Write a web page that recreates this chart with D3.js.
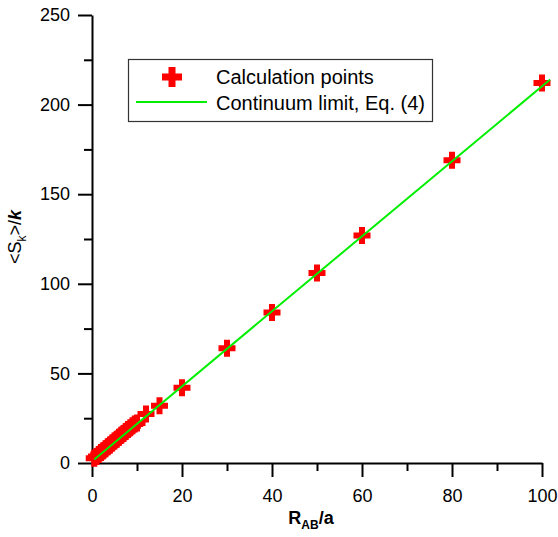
<!DOCTYPE html>
<html>
<head>
<meta charset="utf-8">
<script src="https://cdn.jsdelivr.net/npm/d3@7"></script>
<style>
  html, body { margin: 0; padding: 0; background: #fff; }
  svg { display: block; font-family: Arial, "Liberation Sans", sans-serif; }
</style>
</head>
<body>
<script>
// ---- data ----
const pointsX = [0.5, 1, 1.5, 2, 2.5, 3, 3.5, 4, 4.5, 5, 5.5, 6, 6.5, 7, 7.5, 8, 8.5, 9, 9.5, 10, 12, 15, 20, 30, 40, 50, 60, 80, 100];
const pointsY = [2.6, 3.6, 4.7, 5.8, 6.9, 8.0, 9.0, 10.1, 11.2, 12.3, 13.3, 14.4, 15.5, 16.5, 17.6, 18.7, 19.7, 20.8, 21.8, 22.3, 27.3, 32, 42, 64, 84, 106, 127, 169, 212];
const lineX = [0.5, 101.8];
const lineY = [2.0, 214.0];
const xMajorTicks = [0, 20, 40, 60, 80, 100];
const xMinorTicks = [10, 30, 50, 70, 90];
const yMajorTicks = [0, 50, 100, 150, 200, 250];
const yMinorTicks = [25, 75, 125, 175, 225];
const legendLabels = ["Calculation points", "Continuum limit, Eq. (4)"];

// ---- layout ----
const W = 558, H = 537;
const mLeft = 92, mRight = 542, mTop = 15, mBottom = 463;

const svg = d3.select("body").append("svg").attr("width", W).attr("height", H);

const x = d3.scaleLinear().domain([0, 100]).range([mLeft, mRight]);
const y = d3.scaleLinear().domain([0, 250]).range([mBottom, mTop]);

function plusPath(s, t) {
  const a = s / 2, b = t / 2;
  return `M${-b},${-a}H${b}V${-b}H${a}V${b}H${b}V${a}H${-b}V${b}H${-a}V${-b}H${-b}Z`;
}

// axes
function styleAxis(g) {
  g.selectAll("path.domain").attr("stroke", "#000").attr("stroke-width", 2);
  g.selectAll(".tick line").attr("stroke", "#000").attr("stroke-width", 2);
  g.selectAll(".tick text").attr("fill", "#000").style("font-size", "18px")
    .style("font-family", "Arial, 'Liberation Sans', sans-serif");
}

const xAxis = svg.append("g").attr("transform", `translate(0,${mBottom})`)
  .call(d3.axisBottom(x).tickValues(xMajorTicks).tickSize(14).tickSizeOuter(0).tickPadding(12).tickFormat(d3.format("d")));
styleAxis(xAxis);
const xAxisMinor = svg.append("g").attr("transform", `translate(0,${mBottom})`)
  .call(d3.axisBottom(x).tickValues(xMinorTicks).tickSize(8).tickSizeOuter(0).tickFormat(""));
styleAxis(xAxisMinor);
xAxisMinor.select("path.domain").remove();

const yAxis = svg.append("g").attr("transform", `translate(${mLeft},0)`)
  .call(d3.axisLeft(y).tickValues(yMajorTicks).tickSize(14).tickSizeOuter(0).tickPadding(8).tickFormat(d3.format("d")));
styleAxis(yAxis);
const yAxisMinor = svg.append("g").attr("transform", `translate(${mLeft},0)`)
  .call(d3.axisLeft(y).tickValues(yMinorTicks).tickSize(8).tickSizeOuter(0).tickFormat(""));
styleAxis(yAxisMinor);
yAxisMinor.select("path.domain").remove();

// points
const pts = pointsX.map((v, i) => ({ x: v, y: pointsY[i] }));
svg.append("g").selectAll("path").data(pts).join("path")
  .attr("d", plusPath(17, 6))
  .attr("transform", d => `translate(${x(d.x)},${y(d.y)})`)
  .attr("fill", "#ff0000");

// continuum line
const lineData = lineX.map((v, i) => ({ x: v, y: lineY[i] }));
svg.append("path").datum(lineData)
  .attr("d", d3.line().x(d => x(d.x)).y(d => y(d.y)))
  .attr("fill", "none").attr("stroke", "#00ee00").attr("stroke-width", 2);

// axis titles
const xt = svg.append("text").attr("x", 311).attr("y", 524).attr("text-anchor", "middle")
  .style("font-size", "18px").style("font-weight", "bold").attr("fill", "#000");
xt.append("tspan").text("R");
xt.append("tspan").text("AB").style("font-size", "12px").attr("dy", 5);
xt.append("tspan").text("/a").attr("dy", -5);

const yt = svg.append("text").attr("transform", "translate(21,237) rotate(-90)")
  .attr("text-anchor", "middle").style("font-size", "18px").attr("fill", "#000");
yt.append("tspan").text("<S");
yt.append("tspan").text("k").style("font-size", "12px").attr("dy", 5);
yt.append("tspan").text(">/").attr("dy", -5);
yt.append("tspan").text("k").style("font-style", "italic").style("font-weight", "bold");

// legend
const lg = svg.append("g");
lg.append("rect").attr("x", 128.5).attr("y", 59.5).attr("width", 304).attr("height", 62)
  .attr("fill", "#fff").attr("stroke", "#333").attr("stroke-width", 1.2);
lg.append("path").attr("d", plusPath(20, 7)).attr("transform", "translate(172,77)").attr("fill", "#ff0000");
lg.append("line").attr("x1", 136).attr("x2", 207).attr("y1", 102).attr("y2", 102)
  .attr("stroke", "#00ee00").attr("stroke-width", 2);
lg.append("text").attr("x", 216).attr("y", 84).text(legendLabels[0]).style("font-size", "20px").attr("fill", "#000");
lg.append("text").attr("x", 216).attr("y", 110).text(legendLabels[1]).style("font-size", "20px").attr("fill", "#000");
</script>
</body>
</html>
